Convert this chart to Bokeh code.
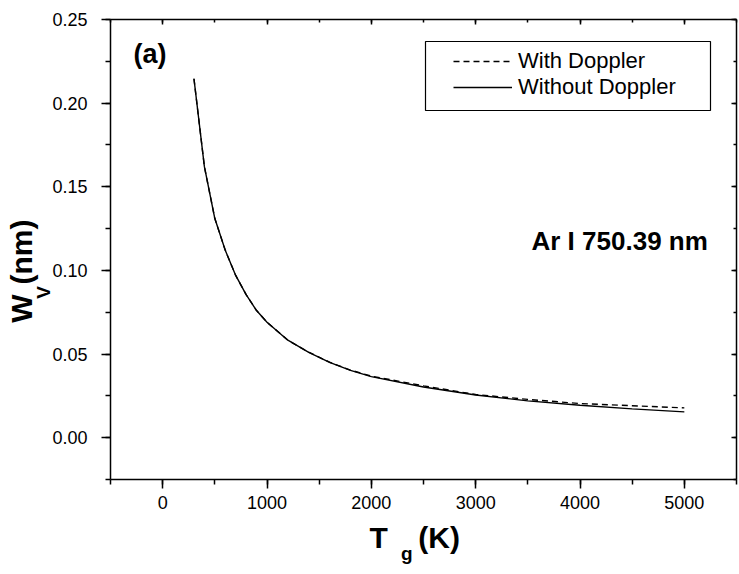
import math
from bokeh.plotting import figure
from bokeh.models import (LinearAxis, SingleIntervalTicker, FixedTicker, Range1d,
                          Label, Legend, LegendItem, BoxAnnotation,
                          NumeralTickFormatter, CustomJSTickFormatter)
from bokeh.embed import file_html
from bokeh.resources import INLINE

# ---- data ----
T_g = [300, 400, 500, 600, 700, 800, 900, 1000, 1200, 1400, 1600, 1800, 2000,
       2500, 3000, 3500, 4000, 4500, 5000]
w_without_doppler = [0.2146, 0.162, 0.131, 0.112, 0.097, 0.0855, 0.076, 0.069,
                     0.0583, 0.0510, 0.0450, 0.0402, 0.0365, 0.0303, 0.0255,
                     0.0220, 0.0194, 0.0172, 0.0154]
w_with_doppler = [0.2146, 0.162, 0.131, 0.112, 0.097, 0.0855, 0.076, 0.069,
                  0.0583, 0.0511, 0.0451, 0.0404, 0.0368, 0.0310, 0.0258,
                  0.0229, 0.0204, 0.0191, 0.0178]
series_labels = ["With Doppler", "Without Doppler"]
x_ticks_interval = 1000
y_ticks_interval = 0.05

# axis titles (text pieces and the axis value at which each piece is centred)
x_title_main = {2070: "T", 2650: "(K)"}
x_title_sub = {2340: "g"}
y_title_main = {0.0772: "W", 0.111: "(nm)"}
y_title_sub = {0.0868: "V"}

FONT = "Liberation Sans"

p = figure(width=739, height=574, output_backend="svg", toolbar_location=None,
           x_range=Range1d(-500, 5500), y_range=Range1d(-0.025, 0.25),
           min_border_left=110, min_border_right=3, min_border_top=19,
           min_border_bottom=95)
p.outline_line_color = None
p.grid.visible = False

p.xaxis.ticker = SingleIntervalTicker(interval=x_ticks_interval, num_minor_ticks=2)
p.yaxis.ticker = SingleIntervalTicker(interval=y_ticks_interval, num_minor_ticks=2)
p.yaxis.formatter = NumeralTickFormatter(format="0.00")
for ax in (p.xaxis, p.yaxis):
    ax.axis_line_width = 1.5
    ax.major_tick_line_width = 1.5
    ax.minor_tick_line_width = 1.5
    ax.major_tick_out = 9
    ax.major_tick_in = 0
    ax.minor_tick_out = 5
    ax.minor_tick_in = 0
    ax.major_label_text_font = FONT
    ax.major_label_text_font_size = "18px"
    ax.major_label_text_color = "black"
p.xaxis.major_label_standoff = 7
p.yaxis.major_label_standoff = 14

top = LinearAxis(ticker=SingleIntervalTicker(interval=x_ticks_interval, num_minor_ticks=2),
                 formatter=CustomJSTickFormatter(code="return ''"))
right = LinearAxis(ticker=SingleIntervalTicker(interval=y_ticks_interval, num_minor_ticks=2),
                   formatter=CustomJSTickFormatter(code="return ''"))
for ax in (top, right):
    ax.axis_line_width = 1.5
    ax.major_tick_line_width = 1.5
    ax.minor_tick_line_width = 1.5
    ax.major_tick_in = 5
    ax.major_tick_out = 0
    ax.minor_tick_in = 3
    ax.minor_tick_out = 0
    ax.major_label_standoff = 0
    ax.major_label_text_font_size = "1px"
p.add_layout(top, "above")
p.add_layout(right, "right")


def title_axis(pieces, size, standoff, vertical=False):
    ax = LinearAxis(ticker=FixedTicker(ticks=list(pieces.keys())),
                    major_label_overrides=dict(pieces),
                    axis_line_color=None, major_tick_line_color=None,
                    minor_tick_line_color=None, major_tick_out=0, major_tick_in=0,
                    minor_tick_out=0, minor_tick_in=0,
                    major_label_standoff=standoff,
                    major_label_text_font=FONT, major_label_text_font_size=size,
                    major_label_text_font_style="bold",
                    major_label_text_color="black")
    if vertical:
        ax.major_label_orientation = "vertical"
    return ax


# x title: T_g (K)  (stacked below the tick labels)
p.add_layout(title_axis(x_title_main, "30px", 9), "below")
p.add_layout(title_axis(x_title_sub, "19px", -14), "below")
# y title: W_V (nm)  (subscript sits nearer to the tick labels)
p.add_layout(title_axis(y_title_sub, "19px", -5, vertical=True), "left")
p.add_layout(title_axis(y_title_main, "30px", -8, vertical=True), "left")

r_with = p.line(T_g, w_with_doppler, line_color="black", line_width=1.4, line_dash="6 4")
r_without = p.line(T_g, w_without_doppler, line_color="black", line_width=1.4)

# legend frame
p.add_layout(BoxAnnotation(left=315, right=600, top=438, bottom=369,
                           left_units="screen", right_units="screen",
                           top_units="screen", bottom_units="screen",
                           fill_alpha=0, line_color="black", line_width=1.2,
                           line_alpha=1))
legend = Legend(items=[LegendItem(label=series_labels[0], renderers=[r_with]),
                       LegendItem(label=series_labels[1], renderers=[r_without])],
                location=(339, 375), padding=4, margin=0, spacing=0,
                glyph_width=59, glyph_height=24, label_height=24,
                label_standoff=6, border_line_alpha=0, background_fill_alpha=0,
                label_text_font=FONT, label_text_font_size="22px",
                label_text_color="black")
p.add_layout(legend)


def lab(text, x, y, size):
    p.add_layout(Label(x=x, y=y, x_units="screen", y_units="screen", text=text,
                       text_font=FONT, text_font_size=size, text_font_style="bold",
                       text_color="black", text_align="left",
                       text_baseline="alphabetic"))


lab("(a)", 23, 426, "27px")
lab("Ar I 750.39 nm", 421, 239, "26px")

open("out.html", "w").write(file_html(p, INLINE))
